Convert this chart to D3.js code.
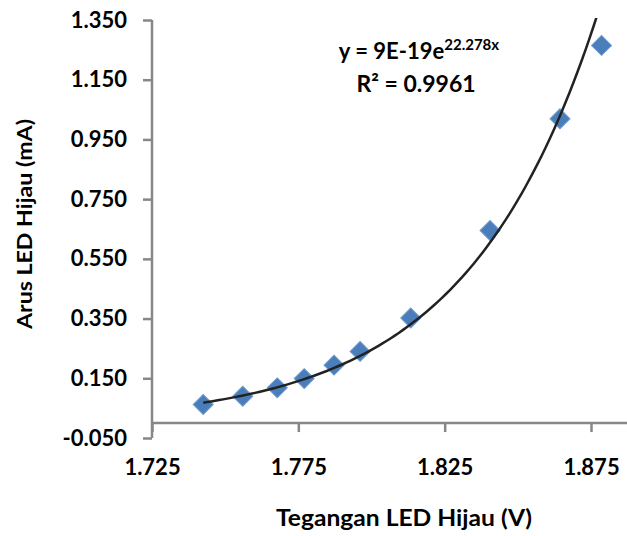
<!DOCTYPE html>
<html>
<head>
<meta charset="utf-8">
<script src="https://cdn.jsdelivr.net/npm/d3@7"></script>
<style>
  body { margin: 0; background: #fff; }
  text { font-family: Lato, "Open Sans", sans-serif; font-weight: bold; fill: #000; }
</style>
</head>
<body>
<div id="chart"></div>
<script>
// DATA
const voltage = [1.7425, 1.7560, 1.7678, 1.7770, 1.7872, 1.7961, 1.8134, 1.8405, 1.8644, 1.8786];
const current = [0.062, 0.090, 0.118, 0.149, 0.194, 0.240, 0.352, 0.645, 1.019, 1.265];
const xTicks = [1.725, 1.775, 1.825, 1.875];
const yTicks = [-0.05, 0.15, 0.35, 0.55, 0.75, 0.95, 1.15, 1.35];
const xTitle = "Tegangan LED Hijau (V)";
const yTitle = "Arus LED Hijau (mA)";
const eqCoef = "9E-19e";
const eqExp = "22.278x";
const rSquared = "0.9961";

const W = 627, H = 536;
const plot = { left: 152, right: 627, top: 20, bottom: 438 };

const svg = d3.select("#chart")
    .append("svg")
    .attr("width", W)
    .attr("height", H);

const x = d3.scaleLinear()
    .domain([1.725, 1.8873])
    .range([plot.left, plot.right]);

const y = d3.scaleLinear()
    .domain([-0.05, 1.35])
    .range([plot.bottom, plot.top]);

const axisColor = "#878787";
// plain hyphen for negatives, as in the original
const fmt = d3.formatLocale({ decimal: ".", thousands: ",", grouping: [3], currency: ["", ""], minus: "-" }).format(".3f");

// Y AXIS
const gy = svg.append("g")
    .attr("transform", `translate(${plot.left},0)`)
    .call(d3.axisLeft(y).tickValues(yTicks).tickFormat(fmt)
        .tickSize(9).tickPadding(16));
gy.select(".domain").attr("stroke", axisColor).attr("stroke-width", 2.5)
    .attr("d", `M0,${plot.bottom}V${plot.top}`);
gy.selectAll(".tick line").attr("stroke", axisColor).attr("stroke-width", 2.5);
gy.selectAll(".tick text").attr("font-size", 22).attr("font-family", null);

// X AXIS (crosses at y = 0)
const gx = svg.append("g")
    .attr("transform", `translate(0,${y(0)})`)
    .call(d3.axisBottom(x).tickValues(xTicks).tickFormat(fmt)
        .tickSize(9).tickPadding(27));
gx.select(".domain").attr("stroke", axisColor).attr("stroke-width", 2.5)
    .attr("d", `M${plot.left},0H${plot.right}`);
gx.selectAll(".tick line").attr("stroke", axisColor).attr("stroke-width", 2.5);
gx.selectAll(".tick text").attr("font-size", 22).attr("font-family", null);

// LABELS
svg.append("text")
    .attr("x", 404)
    .attr("y", 526)
    .attr("text-anchor", "middle")
    .attr("font-size", 22)
    .attr("textLength", 256)
    .attr("lengthAdjust", "spacingAndGlyphs")
    .text(xTitle);

svg.append("text")
    .attr("transform", "rotate(-90)")
    .attr("x", -224)
    .attr("y", 32)
    .attr("text-anchor", "middle")
    .attr("font-size", 21)
    .attr("textLength", 210)
    .attr("lengthAdjust", "spacingAndGlyphs")
    .text(yTitle);

// MARKERS
const pts = voltage.map((v, i) => ({ v, c: current[i] }));
const diamond = d3.symbol().type(d3.symbolSquare).size(200);

svg.append("g")
    .selectAll("path")
    .data(pts)
    .enter()
    .append("path")
    .attr("d", diamond)
    .attr("transform", d => `translate(${x(d.v)},${y(d.c)}) rotate(45)`)
    .attr("fill", "#4a7ebb")
    .attr("stroke", "#6f98cc")
    .attr("stroke-width", 1);

// EXPONENTIAL TRENDLINE (least squares on ln y, like Excel)
const mx = d3.mean(pts, d => d.v);
const my = d3.mean(pts, d => Math.log(d.c));
const b = d3.sum(pts, d => (d.v - mx) * (Math.log(d.c) - my)) / d3.sum(pts, d => (d.v - mx) ** 2);
const a = Math.exp(my - b * mx);
const xMin = d3.min(voltage), xMax = d3.max(voltage);
const trend = d3.range(0, 101).map(i => {
    const v = xMin + (xMax - xMin) * i / 100;
    return { v, c: a * Math.exp(b * v) };
});

svg.append("clipPath").attr("id", "plotClip")
    .append("rect")
    .attr("x", plot.left).attr("y", plot.top - 2)
    .attr("width", plot.right - plot.left).attr("height", plot.bottom - plot.top);

svg.append("path")
    .datum(trend)
    .attr("clip-path", "url(#plotClip)")
    .attr("fill", "none")
    .attr("stroke", "#222")
    .attr("stroke-width", 2.5)
    .attr("d", d3.line().x(d => x(d.v)).y(d => y(d.c)));

// EQUATION LABEL
const eq = svg.append("text")
    .attr("x", 419)
    .attr("y", 59)
    .attr("text-anchor", "middle")
    .attr("font-size", 22);
eq.append("tspan").text("y = " + eqCoef);
eq.append("tspan").attr("font-size", 15).attr("dy", -9).text(eqExp);

svg.append("text")
    .attr("x", 416)
    .attr("y", 92)
    .attr("text-anchor", "middle")
    .attr("font-size", 23)
    .text("R² = " + rSquared);
</script>
</body>
</html>
